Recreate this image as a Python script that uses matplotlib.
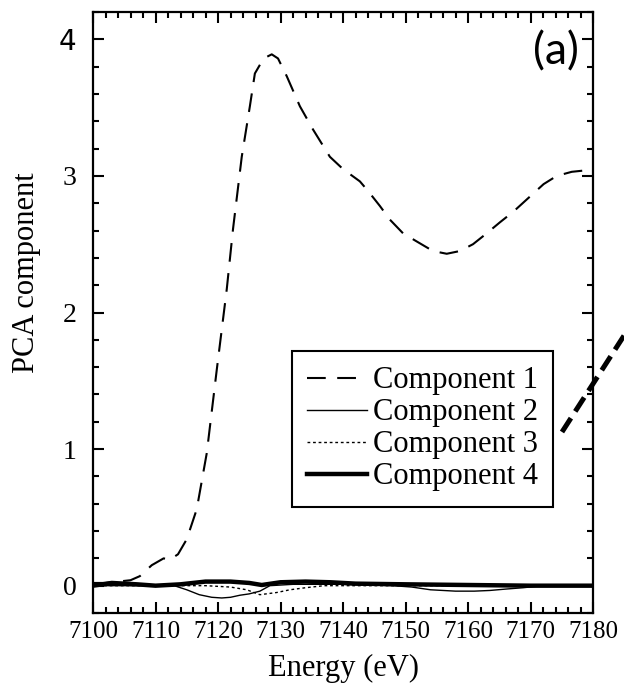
import matplotlib
matplotlib.use("Agg")
import matplotlib.pyplot as plt
from matplotlib.lines import Line2D
from matplotlib.ticker import MultipleLocator

plt.rcParams['font.family'] = ['Liberation Serif', 'DejaVu Serif']

# energy (eV) / component values
x1 = [7100, 7102, 7104, 7106, 7107.5, 7109.4, 7111.3, 7112.3, 7113.6, 7115.0,
      7116.6, 7118.2, 7119.8, 7121.4, 7122.4, 7123.8, 7125.1, 7125.9, 7127.3,
      7128.6, 7129.6, 7131.0, 7133.1, 7135.2, 7137.9, 7140.0, 7142.7, 7144.0,
      7145.9, 7147.5, 7149.6, 7151.8, 7154.4, 7156.6, 7158.7, 7160.8, 7163.0,
      7165.1, 7167.3, 7169.7, 7172.1, 7174.2, 7176.6, 7178.7, 7180]
y1 = [0.02, 0.02, 0.03, 0.04, 0.07, 0.15, 0.20, 0.19, 0.23, 0.34,
      0.56, 0.97, 1.58, 2.17, 2.61, 3.14, 3.51, 3.75, 3.86,
      3.89, 3.86, 3.73, 3.51, 3.34, 3.14, 3.05, 2.96, 2.89,
      2.78, 2.68, 2.58, 2.52, 2.45, 2.43, 2.45, 2.50, 2.58,
      2.66, 2.74, 2.84, 2.94, 3.00, 3.03, 3.04, 3.03]

x2 = [7100, 7105, 7110, 7113, 7115, 7117, 7119, 7120.6, 7122, 7123.5, 7125,
      7126.7, 7128.3, 7132, 7140, 7148, 7151, 7154, 7158, 7161, 7163.5, 7166,
      7168.8, 7172, 7176, 7180]
y2 = [0.0, 0.0, 0.0, 0.0, -0.03, -0.066, -0.085, -0.09, -0.085, -0.07, -0.06,
      -0.04, 0.0, 0.01, 0.01, 0.0, -0.01, -0.03, -0.04, -0.04, -0.035, -0.025,
      -0.015, 0.0, 0.0, 0.0]

x3 = [7100, 7110, 7118, 7122, 7124.6, 7126.7, 7129.4, 7131.5, 7134, 7137,
      7145, 7160, 7180]
y3 = [0.0, 0.0, 0.0, -0.01, -0.03, -0.066, -0.05, -0.03, -0.015, 0.0,
      0.0, 0.0, 0.0]

x4 = [7100, 7103, 7107, 7110, 7114, 7118, 7122, 7125, 7127, 7130, 7134,
      7138, 7142, 7150, 7160, 7170, 7180]
y4 = [0.0, 0.02, 0.01, 0.0, 0.01, 0.03, 0.03, 0.02, 0.005, 0.025, 0.03,
      0.025, 0.015, 0.01, 0.005, 0.0, 0.0]

labels = ["Component 1", "Component 2", "Component 3", "Component 4"]

fig = plt.figure(figsize=(6.24, 6.88), dpi=100)
ax = fig.add_axes([93 / 624, 1 - 613 / 688, 500 / 624, 601 / 688])

l1, = ax.plot(x1, y1, color='black', lw=1.5, linestyle=(0, (9, 5.5)))
l2, = ax.plot(x2, y2, color='black', lw=1.0)
l3, = ax.plot(x3, y3, color='black', lw=1.0, linestyle=(0, (2, 2)))
l4, = ax.plot(x4, y4, color='black', lw=3.2)

ax.set_xlim(7100, 7180)
ax.set_ylim(-0.2, 4.2)
ax.xaxis.set_major_locator(MultipleLocator(10))
ax.xaxis.set_minor_locator(MultipleLocator(2))
ax.yaxis.set_major_locator(MultipleLocator(1))
ax.yaxis.set_minor_locator(MultipleLocator(0.2))

for s in ax.spines.values():
    s.set_linewidth(1.6)
ax.tick_params(which='both', direction='in', top=True, right=True, width=1.5)
ax.tick_params(which='major', length=8)
ax.tick_params(which='minor', length=4.5)
ax.tick_params(axis='x', which='major', labelsize=18, pad=6)
ax.tick_params(axis='y', which='major', labelsize=20, pad=12)

fig.canvas.draw()
for t in ax.get_yticklabels():
    if t.get_text() == '4':
        t.set_fontfamily('DejaVu Sans')

fig.text(27 / 624, 1 - 273 / 688, "PCA component", rotation=90,
         ha='center', va='center', fontsize=22)
fig.text(343 / 624, 1 - 668 / 688, "Energy (eV)", ha='center', va='center',
         fontsize=22)

ax.text(0.972, 0.933, "(a)", transform=ax.transAxes, ha='right', va='center',
        fontsize=32, family=['Lato', 'DejaVu Sans'])

leg = ax.legend([l1, l2, l3, l4], labels, loc='upper left',
                bbox_to_anchor=(292 / 624, 1 - 351 / 688),
                bbox_transform=fig.transFigure, borderaxespad=0,
                fontsize=22, handlelength=1.95, handletextpad=0.2,
                labelspacing=0.1, borderpad=0.5, fancybox=False,
                framealpha=1, edgecolor='black')
leg.get_frame().set_linewidth(1.5)

# thick dashed connector running off the right edge
fig.add_artist(Line2D([562 / 624, 645 / 624], [1 - 432 / 688, 1 - 303 / 688],
                      transform=fig.transFigure, color='black', lw=3.6,
                      linestyle=(0, (3.3, 1.6)), clip_on=False))

fig.savefig("out.png", dpi=100)
